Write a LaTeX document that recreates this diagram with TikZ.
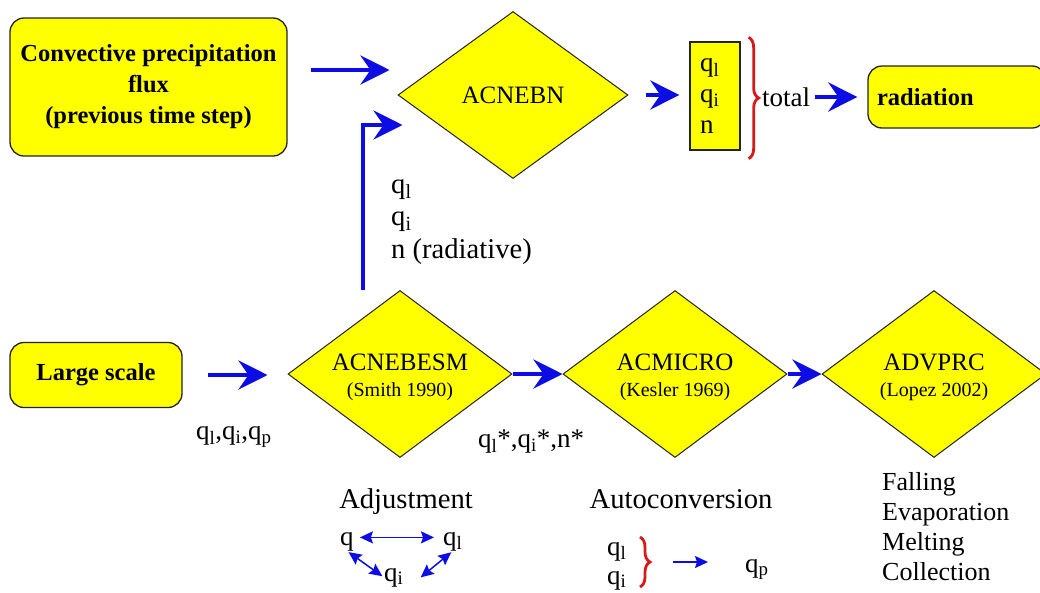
\documentclass[tikz,border=0pt]{standalone}
\usepackage{fontspec}
\setmainfont{Liberation Serif}
\usetikzlibrary{arrows.meta,shapes.geometric,decorations.pathreplacing}
\definecolor{ablue}{RGB}{12,12,228}
\definecolor{yel}{RGB}{255,255,0}
\definecolor{bred}{RGB}{215,25,25}
\definecolor{edge}{RGB}{35,35,35}
\begin{document}
\begin{tikzpicture}[x=1pt,y=-1pt,
  box/.style={draw=edge, line width=1.3pt, fill=yel, rounded corners=14pt, inner sep=0pt},
  dia/.style={draw=edge, line width=1pt, fill=yel, shape=diamond, inner sep=0pt, minimum width=224pt, minimum height=167pt},
  bigarrow/.style={draw=ablue, line width=4.5pt, -{Stealth[length=29pt,width=29pt,inset=10pt]}},
  smallarr/.style={draw=ablue, line width=1.5pt, {Stealth[length=13pt,width=12pt,inset=2pt]}-{Stealth[length=13pt,width=12pt,inset=2pt]}},
  onearr/.style={draw=ablue, line width=1.5pt, -{Stealth[length=13pt,width=12pt,inset=2pt]}},
  redbrace/.style={draw=bred, line width=2.8pt, decorate, decoration={brace, amplitude=10pt}},
  lab/.style={inner sep=0pt, font=\fontsize{27}{31}\selectfont},
  biglab/.style={inner sep=0pt, font=\fontsize{28.6}{32}\selectfont},
  bold/.style={font=\fontsize{24.5}{31}\selectfont\bfseries},
  dmain/.style={inner sep=0pt, font=\fontsize{25}{29}\selectfont},
  dsub/.style={inner sep=0pt, font=\fontsize{20}{24}\selectfont}]
\useasboundingbox (0,0) rectangle (1040,592);
\fill[white] (0,0) rectangle (1040,592);

% top row
\node[box, bold, align=center, minimum width=277pt, minimum height=138pt] (conv) at (148.5,87)
  {Convective precipitation\\flux\\(previous time step)};
\node[dia, minimum width=230pt] (acnebn) at (513,95) {};
\node[dmain] (acnebnT) at (acnebn) {ACNEBN};
\node[draw=edge, line width=1.3pt, fill=yel, minimum width=50pt, minimum height=108pt, inner sep=0pt,
  text width=30pt, align=left, font=\fontsize{27}{31}\selectfont] (qbox) at (715,96)
  {q\textsubscript{l}\\q\textsubscript{i}\\n};
\draw[redbrace] ([xshift=8pt,yshift=4pt]qbox.north east) -- ([xshift=8pt,yshift=-8pt]qbox.south east)
  coordinate[pos=0.5,xshift=10pt] (btip);
\node[lab, anchor=west] (total) at (762,97) {total};
\node[box, bold, text width=160pt, inner xsep=9pt, minimum height=62pt, align=left] (rad) at (957,97) {radiation};

\draw[bigarrow] ([xshift=23pt,yshift=17pt]conv.east) -- ([xshift=-8pt,yshift=25pt]acnebn.west);
\draw[bigarrow, shorten <=17pt, shorten >=10pt] (acnebn.east) -- (acnebn.east -| qbox.west);
\draw[bigarrow, shorten <=5pt, shorten >=10pt] (total.east) -- (total.east -| rad.west);

% bottom row
\node[box, bold, minimum width=172pt, minimum height=65pt] (ls) at (96,375) {Large scale};
\node[dia] (acnebesm) at (400,374) {};
\node[dmain] (acnebesmT) at (400,362) {ACNEBESM};
\node[dsub] (acnebesmS) at (400,392) {(Smith 1990)};
\node[dia] (acmicro) at (675,374) {};
\node[dmain] (acmicroT) at (675,362) {ACMICRO};
\node[dsub] (acmicroS) at (675,392) {(Kesler 1969)};
\node[dia] (advprc) at (934,374) {};
\node[dmain] (advprcT) at (934,362) {ADVPRC};
\node[dsub] (advprcS) at (934,392) {(Lopez 2002)};

\draw[bigarrow, shorten <=25pt, shorten >=20pt] (ls.east) -- (ls.east -| acnebesm.west);
\draw[bigarrow] (acnebesm.east) -- (acmicro.west);
\draw[bigarrow] (acmicro.east) -- (advprc.west);
\draw[bigarrow] ([xshift=-37pt]acnebesm.north) |- ([xshift=5pt,yshift=-30pt]acnebn.west);

% labels
\node[biglab, anchor=west, align=left, font=\fontsize{28.6}{32.5}\selectfont] (radlab) at (391,222)
  {q\textsubscript{l}\\q\textsubscript{i}\\n (radiative)};
\node[lab, anchor=west] (inlab) at (196,437) {q\textsubscript{l},q\textsubscript{i},q\textsubscript{p}};
\node[lab, anchor=west] (outlab) at (478,442) {q\textsubscript{l}*,q\textsubscript{i}*,n*};

% adjustment
\node[biglab, anchor=base] (adj) at (406,508) {Adjustment};
\node[lab, anchor=base west] (qA) at (340,545) {q};
\node[lab, anchor=base west] (qlA) at (443,545) {q\textsubscript{l}};
\node[lab, anchor=base west] (qiA) at (384,581) {q\textsubscript{i}};
\draw[smallarr, shorten <=6pt, shorten >=9pt] ([yshift=4pt]qA.east) -- ([yshift=4pt]qA.east -| qlA.west);
\draw[smallarr, shorten <=2pt, shorten >=2pt] (qA.south) -- (qiA.west);
\draw[smallarr, shorten <=2pt] (qlA.south) -- ([xshift=17pt]qiA.east);

% autoconversion
\node[biglab, anchor=base] (auto) at (681,508) {Autoconversion};
\node[lab, anchor=base west] (ql2) at (607,555) {q\textsubscript{l}};
\node[lab, anchor=base west] (qi2) at (607,584) {q\textsubscript{i}};
\draw[redbrace] (640,537) -- (640,587) coordinate[pos=0.5,xshift=10pt] (atip);
\node[lab, anchor=base west] (qp) at (745,572) {q\textsubscript{p}};
\draw[onearr, shorten <=23pt, shorten >=37pt] (atip) -- (atip -| qp.west);

% processes
\node[lab, anchor=west, align=left, font=\fontsize{26}{30}\selectfont] (proc) at (882,527)
  {Falling\\Evaporation\\Melting\\Collection};
\end{tikzpicture}
\end{document}
